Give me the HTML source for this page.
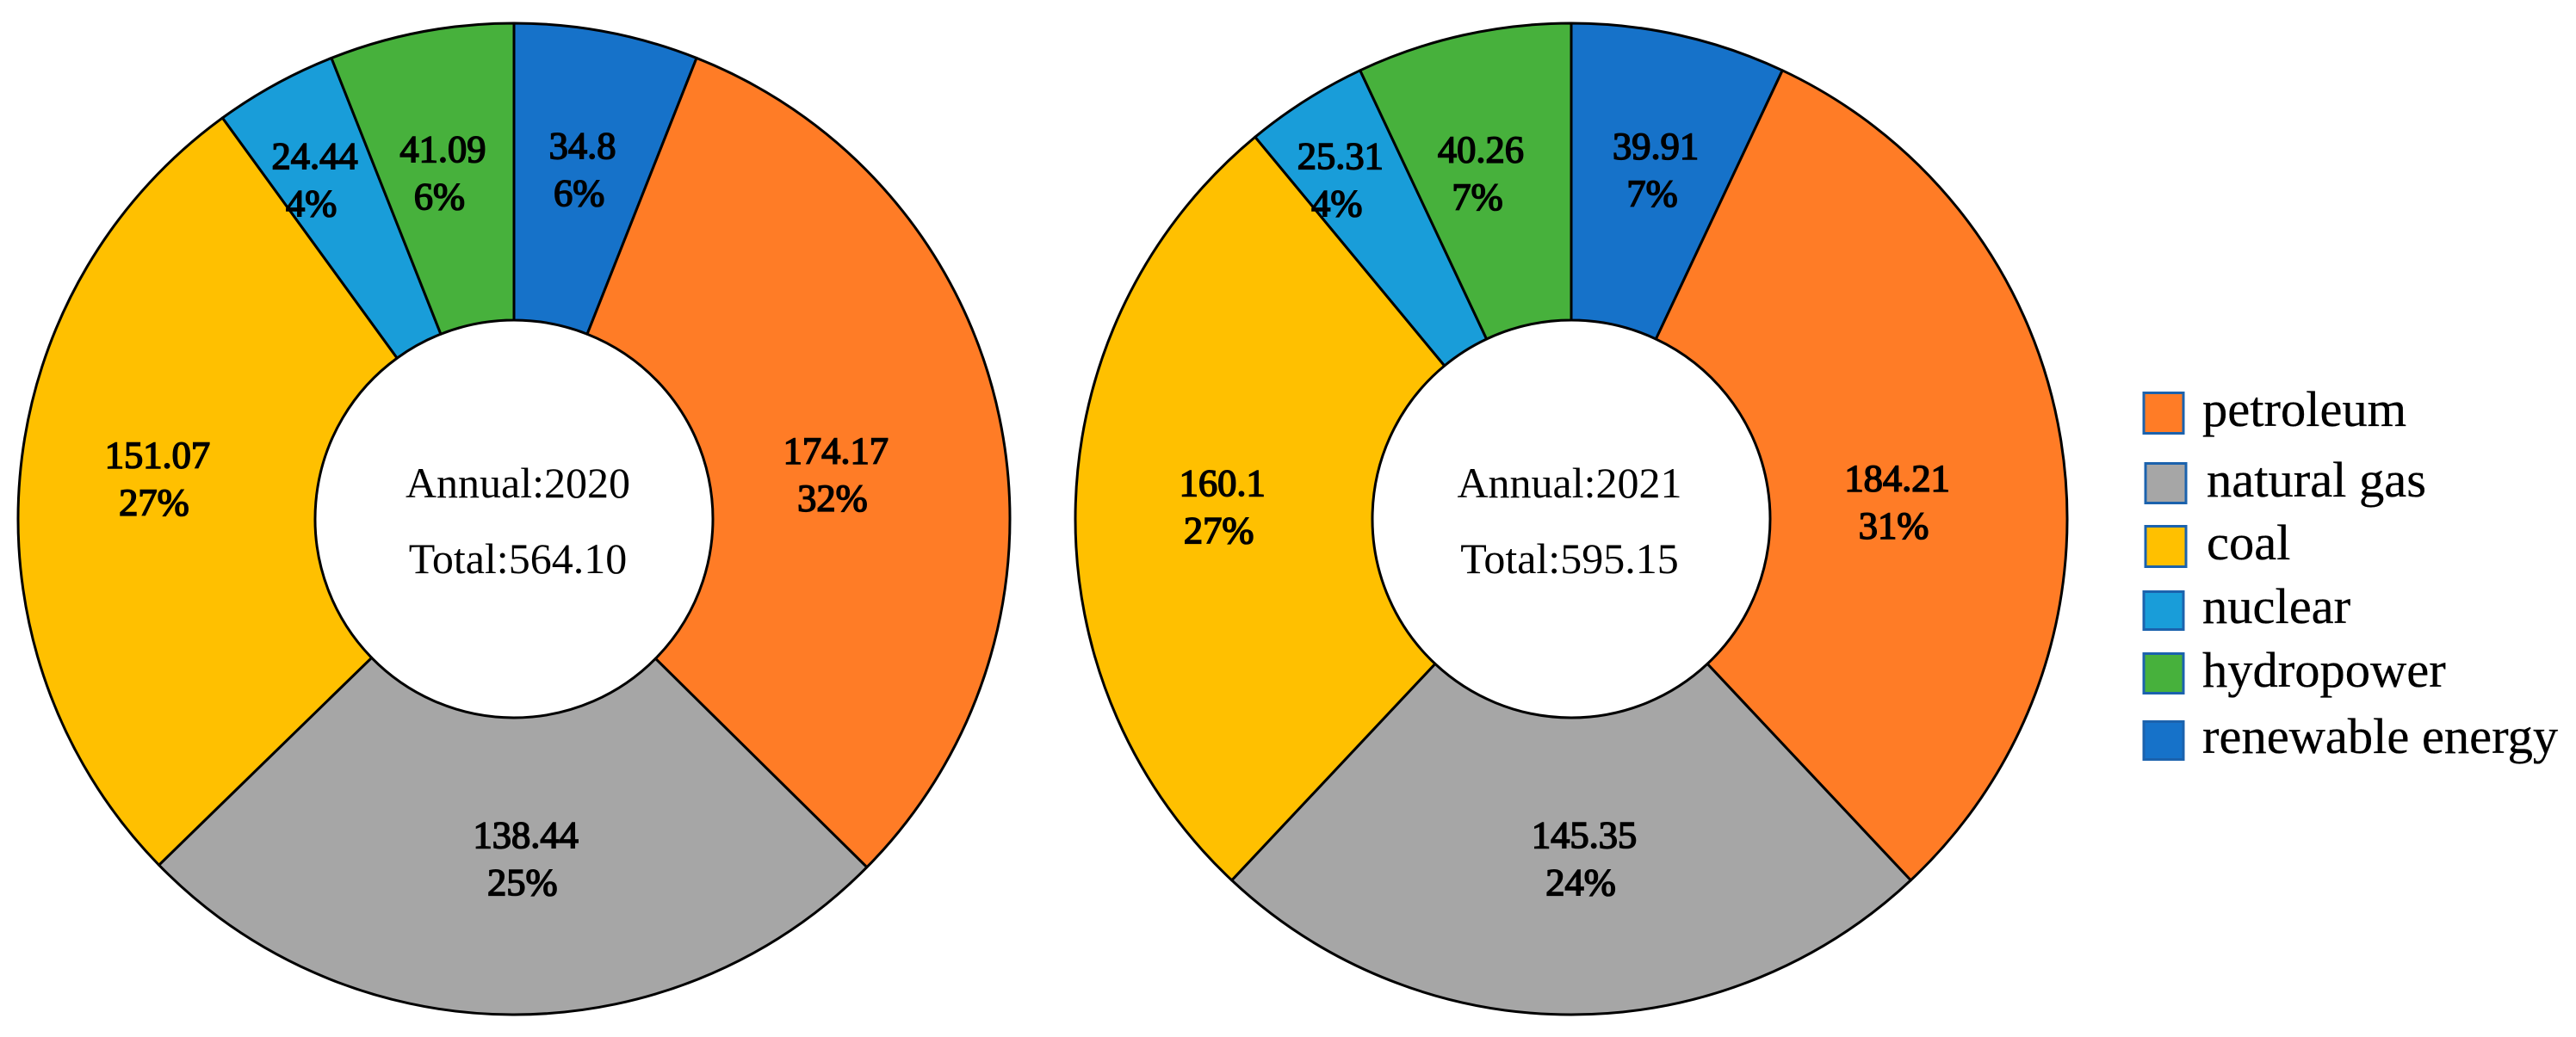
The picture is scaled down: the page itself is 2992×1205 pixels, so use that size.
<!DOCTYPE html>
<html lang="en">
<head>
<meta charset="utf-8">
<title>Annual energy consumption donut charts</title>
<style>
  html, body { margin: 0; padding: 0; background: #fff; }
  body { width: 2992px; height: 1205px; overflow: hidden; }
  svg { display: block; }
  text { font-family: "Liberation Serif", "Times New Roman", serif; fill: #000; }
  .val { font-size: 44.5px; text-anchor: middle; stroke: #000; stroke-width: 1.6px; }
  .mid { font-size: 50px; text-anchor: middle; }
  .leg { font-size: 58.5px; stroke: #000; stroke-width: 0.3px; }
  .sw { stroke: #1b62ad; stroke-width: 3px; }
</style>
</head>
<body>
<svg id="chart" xmlns="http://www.w3.org/2000/svg" width="2992" height="1205" viewBox="0 0 2992 1205">
  <rect width="2992" height="1205" fill="#fff"/>
  <g id="donuts"></g>
  <g id="legend"></g>
</svg>
<script>
// Data (clockwise from 12 o'clock)
const categories = ['renewable energy', 'petroleum', 'natural gas', 'coal', 'nuclear', 'hydropower'];
const values2020 = ['34.8', '174.17', '138.44', '151.07', '24.44', '41.09'];
const percentLabels2020 = [6, 32, 25, 27, 4, 6];
const sliceShares2020 = [6, 31.4, 25.3, 27.3, 4, 6];
const values2021 = ['39.91', '184.21', '145.35', '160.1', '25.31', '40.26'];
const percentLabels2021 = [7, 31, 24, 27, 4, 7];
const sliceShares2021 = [7, 31, 24, 27, 4, 7];
const years = ['2020', '2021'];
const totals = ['564.10', '595.15'];
const legendOrder = ['petroleum', 'natural gas', 'coal', 'nuclear', 'hydropower', 'renewable energy'];

// Styling and layout
const SVGNS = 'http://www.w3.org/2000/svg';
const colorOf = {
  'renewable energy': '#1672c9',
  'petroleum': '#ff7c26',
  'natural gas': '#a6a6a6',
  'coal': '#ffc000',
  'nuclear': '#199dd9',
  'hydropower': '#47b13c'
};
const slugOf = function (s) { return s.replace(/\s+/g, '-'); };
const OUTER = 576;
const INNER = 231;
const LABEL_R = (OUTER + INNER) / 2;
const LINE_GAP = 55;
// Hand placement of the labels relative to each slice's ring midpoint, as in the source figure
const nudges = [
  [[4, -10], [-21, 31], [15, -9], [-12, -13], [-37, -41], [-7, -6]],
  [[10, -12], [-20, 43], [15, -9], [-2, -2], [-52, -54], [-17, -8]]
];
const charts = [
  { cx: 597, cy: 603, textX: 601.5, shares: sliceShares2020, values: values2020, pct: percentLabels2020 },
  { cx: 1825, cy: 603, textX: 1823, shares: sliceShares2021, values: values2021, pct: percentLabels2021 }
];

function svgEl(tag, parent) {
  const el = document.createElementNS(SVGNS, tag);
  parent.appendChild(el);
  return el;
}
// Axis function: share (percent, cumulative) to angle in radians, clockwise from top
function angleOf(cumShare, total) { return cumShare / total * 2 * Math.PI; }
function polar(cx, cy, r, a) { return [cx + r * Math.sin(a), cy - r * Math.cos(a)]; }
function sectorPath(cx, cy, a0, a1) {
  const p0 = polar(cx, cy, OUTER, a0), p1 = polar(cx, cy, OUTER, a1);
  const p2 = polar(cx, cy, INNER, a1), p3 = polar(cx, cy, INNER, a0);
  const large = (a1 - a0) > Math.PI ? 1 : 0;
  return 'M' + p0[0] + ' ' + p0[1] + 'A' + OUTER + ' ' + OUTER + ' 0 ' + large + ' 1 ' + p1[0] + ' ' + p1[1] +
    'L' + p2[0] + ' ' + p2[1] + 'A' + INNER + ' ' + INNER + ' 0 ' + large + ' 0 ' + p3[0] + ' ' + p3[1] + 'Z';
}

const donuts = document.getElementById('donuts');
charts.forEach(function (c, ci) {
  const g = svgEl('g', donuts);
  
  
  const total = c.shares.reduce(function (a, b) { return a + b; }, 0);
  let cum = 0;
  const labels = [];
  c.shares.forEach(function (s, i) {
    const a0 = angleOf(cum, total);
    cum += s;
    const a1 = angleOf(cum, total);
    const slice = svgEl('path', g);
    
    
    slice.setAttribute('d', sectorPath(c.cx, c.cy, a0, a1));
    slice.setAttribute('fill', colorOf[categories[i]]);
    slice.setAttribute('stroke', '#000');
    slice.setAttribute('stroke-width', '3');
    slice.setAttribute('stroke-linejoin', 'round');
    labels.push({ i: i, mid: (a0 + a1) / 2 });
  });
  labels.forEach(function (l) {
    const p = polar(c.cx, c.cy, LABEL_R, l.mid);
    const x = p[0] + nudges[ci][l.i][0];
    const y = p[1] + nudges[ci][l.i][1];
    const v = svgEl('text', g);
    
    
    v.setAttribute('class', 'val');
    v.setAttribute('x', x);
    v.setAttribute('y', y - LINE_GAP / 2 + 15);
    v.textContent = c.values[l.i];
    const t = svgEl('text', g);
    
    
    t.setAttribute('class', 'val');
    t.setAttribute('x', x - 4);
    t.setAttribute('y', y + LINE_GAP / 2 + 15);
    t.textContent = c.pct[l.i] + '%';
  });
  const a = svgEl('text', g);
  
  
  a.setAttribute('class', 'mid');
  a.setAttribute('x', c.textX);
  a.setAttribute('y', 578);
  a.textContent = 'Annual:' + years[ci];
  const b = svgEl('text', g);
  
  
  b.setAttribute('class', 'mid');
  b.setAttribute('x', c.textX);
  b.setAttribute('y', 666);
  b.textContent = 'Total:' + totals[ci];
});

// Legend row layout: swatch box and text position
const legendLayout = [
  { sx: 2490, sy: 456.5, sw: 46, sh: 47, tx: 2558, ty: 495 },
  { sx: 2492, sy: 538.5, sw: 47, sh: 46, tx: 2563, ty: 577 },
  { sx: 2492, sy: 611.5, sw: 47, sh: 47, tx: 2563, ty: 650 },
  { sx: 2490, sy: 687.5, sw: 46, sh: 44, tx: 2558, ty: 724 },
  { sx: 2490, sy: 759.5, sw: 46, sh: 46, tx: 2558, ty: 798 },
  { sx: 2490, sy: 838.5, sw: 46, sh: 44, tx: 2558, ty: 875 }
];
const legend = document.getElementById('legend');
legendOrder.forEach(function (name, i) {
  const row = legendLayout[i];
  const e = svgEl('g', legend);
  
  
  const r = svgEl('rect', e);
  
  
  r.setAttribute('class', 'sw');
  r.setAttribute('x', row.sx);
  r.setAttribute('y', row.sy);
  r.setAttribute('width', row.sw);
  r.setAttribute('height', row.sh);
  r.setAttribute('fill', colorOf[name]);
  const t = svgEl('text', e);
  
  
  t.setAttribute('class', 'leg');
  t.setAttribute('x', row.tx);
  t.setAttribute('y', row.ty);
  t.textContent = name;
});
</script>
</body>
</html>
